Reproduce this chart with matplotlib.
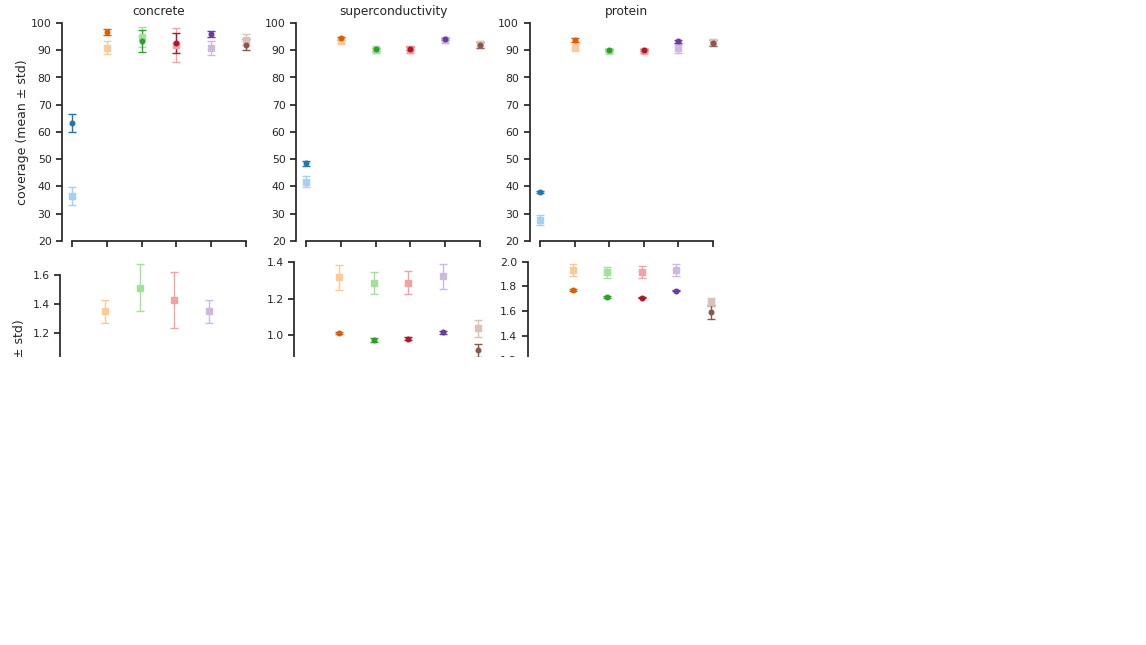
import numpy as np
import matplotlib.pyplot as plt
from matplotlib.patches import Rectangle
from matplotlib.ticker import MultipleLocator

nan = np.nan
datasets = ['concrete', 'superconductivity', 'protein']
methods = range(6)

# coverage (%), dark circles / light squares
cov_dark = [[63.2, 96.7, 93.3, 92.8, 95.9, 92.1],
            [48.5, 94.4, 90.4, 90.6, 94.0, 92.0],
            [38.0, 93.8, 90.0, 90.0, 93.3, 92.7]]
cov_dark_sd = [[3.3, 1.2, 4.0, 3.7, 1.2, 1.9],
               [0.8, 0.5, 0.6, 0.5, 0.4, 1.2],
               [0.5, 0.6, 0.3, 0.3, 0.5, 1.0]]
cov_light = [[36.5, 90.9, 94.8, 91.9, 90.9, 93.9],
             [41.8, 93.5, 90.2, 90.2, 93.7, 92.2],
             [27.7, 91.3, 89.8, 89.8, 90.7, 92.9]]
cov_light_sd = [[3.2, 2.4, 3.6, 6.2, 2.5, 1.9],
                [2.0, 1.2, 1.3, 1.3, 1.0, 1.2],
                [2.0, 1.7, 0.8, 0.7, 1.7, 1.1]]

# interval width, only the part that is visible in the picture
wid_dark = [[nan, nan, nan, nan, nan, nan],
            [nan, 1.014, 0.974, 0.982, 1.016, 0.920],
            [nan, 1.773, 1.714, 1.709, 1.765, 1.593]]
wid_dark_sd = [[nan, nan, nan, nan, nan, nan],
               [nan, 0.007, 0.010, 0.008, 0.006, 0.035],
               [nan, 0.006, 0.006, 0.006, 0.005, 0.053]]
wid_light = [[nan, 1.348, 1.515, 1.431, 1.348, nan],
             [nan, 1.315, 1.284, 1.286, 1.320, 1.038],
             [nan, 1.935, 1.914, 1.919, 1.935, 1.674]]
wid_light_sd = [[nan, 0.081, 0.162, 0.195, 0.081, nan],
                [nan, 0.068, 0.060, 0.061, 0.067, 0.046],
                [nan, 0.050, 0.045, 0.047, 0.050, 0.033]]

dark_colors = ['#1f77b4', '#d95f02', '#2ca02c', '#b5152b', '#6a3d9a', '#8c564b']
light_colors = ['#a6d0f0', '#fdc996', '#a5e09b', '#f2a2a2', '#cdb9e0', '#dcc1b9']

W, H = 1146, 645
fig = plt.figure(figsize=(W / 100, H / 100), dpi=100)
ink = '#262626'

def px_axes(left, top, width, height):
    return fig.add_axes([left / W, (H - top - height) / H, width / W, height / H])

def style(ax, ylo, yhi):
    ax.set_xlim(-0.3, 5.3)
    ax.set_xticks(list(methods))
    ax.set_xticklabels([])
    for s in ['top', 'right']:
        ax.spines[s].set_visible(False)
    for s in ['left', 'bottom']:
        ax.spines[s].set_color(ink)
        ax.spines[s].set_linewidth(1.25)
    ax.spines['bottom'].set_bounds(0, 5)
    ax.spines['left'].set_bounds(ylo, yhi)
    ax.tick_params(length=4, width=1.25, color=ink, labelcolor=ink, labelsize=7.8)

def draw(ax, x, m, sd, fmt, ms, c):
    ax.errorbar(x, m, yerr=sd, fmt=fmt, ms=ms, color=c, capsize=3.2,
                elinewidth=1, capthick=1)

lefts = [62, 296, 529.5]
wid_ylim = [(0.18, 1.70), (0.22, 1.404), (0.24, 2.006)]

for k, name in enumerate(datasets):
    ax = px_axes(lefts[k], 23, 194, 218)
    for i in methods:
        draw(ax, i, cov_light[k][i], cov_light_sd[k][i], 's', 3.8, light_colors[i])
        draw(ax, i, cov_dark[k][i], cov_dark_sd[k][i], 'o', 3.3, dark_colors[i])
    ax.set_ylim(20, 100)
    ax.yaxis.set_major_locator(MultipleLocator(10))
    style(ax, 20, 100)
    ax.set_title(name, fontsize=8.7, color=ink)
    if k == 0:
        ax.set_ylabel('coverage (mean ± std)', fontsize=9, color=ink, labelpad=1.5)

    ax2 = px_axes(lefts[k] - 2, 261, 194, 218)
    for i in methods:
        draw(ax2, i, wid_light[k][i], wid_light_sd[k][i], 's', 3.8, light_colors[i])
        draw(ax2, i, wid_dark[k][i], wid_dark_sd[k][i], 'o', 3.3, dark_colors[i])
    lo, hi = wid_ylim[k]
    ax2.set_ylim(lo, hi)
    ax2.yaxis.set_major_locator(MultipleLocator(0.2))
    ax2.yaxis.set_major_formatter(plt.FormatStrFormatter('%.1f'))
    top_tick = np.floor(hi / 0.2 + 1e-6) * 0.2
    style(ax2, lo, top_tick)
    if k == 0:
        ax2.set_ylabel('width (mean ± std)', fontsize=9, color=ink)
        ax2.yaxis.set_label_coords(-0.176, 0.455)

# the source image is cut off below the second row
fig.add_artist(Rectangle((0, 0), 1, (H - 357) / H, transform=fig.transFigure,
                         facecolor='white', edgecolor='none', zorder=10))

fig.savefig('out.png', dpi=100, facecolor='white')
